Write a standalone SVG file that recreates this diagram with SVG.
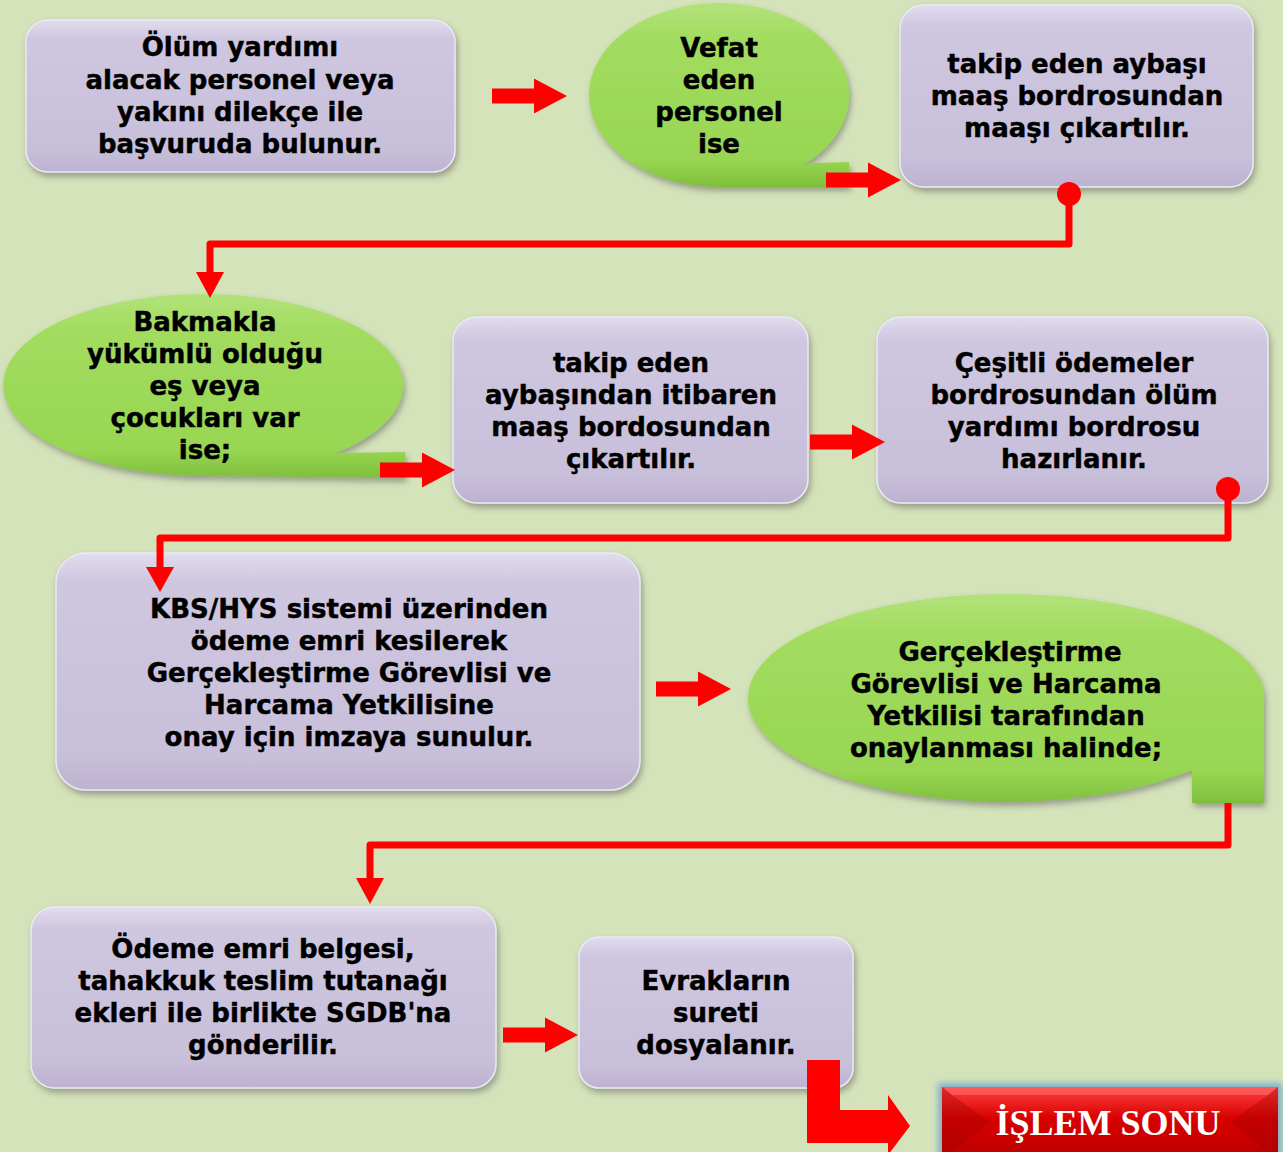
<svg xmlns="http://www.w3.org/2000/svg" xmlns:xlink="http://www.w3.org/1999/xlink" width="1283" height="1152" viewBox="0 0 1283 1152">
<defs>
<style>
.t{font-family:"DejaVu Sans","Verdana",sans-serif;font-weight:bold;font-size:26px;fill:#000;stroke:#000;stroke-width:0.45;text-anchor:middle}
.box{fill:url(#gP);stroke:#ece8f4;stroke-width:1.5;filter:url(#sh)}
.bub{fill:url(#gG);filter:url(#sh)}
.con{fill:none;stroke:#ff0000;stroke-width:7;stroke-linejoin:round}
.red{fill:#ff0000}
</style>
<linearGradient id="gP" x1="0" y1="0" x2="0" y2="1">
<stop offset="0" stop-color="#e2dcee"/>
<stop offset="0.12" stop-color="#cfc7e0"/>
<stop offset="0.85" stop-color="#c8bfda"/>
<stop offset="1" stop-color="#bdb2d0"/>
</linearGradient>
<linearGradient id="gG" x1="0" y1="0" x2="0" y2="1">
<stop offset="0" stop-color="#b2e27a"/>
<stop offset="0.2" stop-color="#a2dc5f"/>
<stop offset="0.85" stop-color="#98d652"/>
<stop offset="1" stop-color="#7fbf3c"/>
</linearGradient>
<linearGradient id="gR" x1="0" y1="0" x2="0" y2="1">
<stop offset="0" stop-color="#ff4040"/>
<stop offset="0.45" stop-color="#d80000"/>
<stop offset="1" stop-color="#bc0000"/>
</linearGradient>
<filter id="sh" x="-10%" y="-10%" width="125%" height="130%">
<feDropShadow dx="2" dy="4" stdDeviation="3" flood-color="#4a4a4a" flood-opacity="0.45"/>
</filter>
<filter id="glow" x="-10%" y="-30%" width="120%" height="160%">
<feGaussianBlur stdDeviation="3"/>
</filter>
<path id="arr" d="M0 -7.5 H42 V-17.5 L75 0 L42 17.5 V7.5 H0 Z"/>
</defs>
<rect width="1283" height="1152" fill="#d5e3bb"/>

<g id="n1">
<rect class="box" x="26" y="20" width="429" height="152" rx="22"/>
<text class="t" x="240" y="56">Ölüm yardımı</text>
<text class="t" x="240" y="89">alacak personel veya</text>
<text class="t" x="240" y="121">yakını dilekçe ile</text>
<text class="t" x="240" y="153">başvuruda bulunur.</text>
</g>

<g id="n2">
<path class="bub" d="M719 187 L849 187 L849 162 L815 163 Q795 165 782 175.5 A130 92 0 1 0 719 187 Z"/>
<text class="t" x="719" y="57">Vefat</text>
<text class="t" x="719" y="89">eden</text>
<text class="t" x="719" y="121">personel</text>
<text class="t" x="719" y="153">ise</text>
</g>

<g id="n3">
<rect class="box" x="900" y="5" width="353" height="182" rx="24"/>
<text class="t" x="1077" y="73">takip eden aybaşı</text>
<text class="t" x="1077" y="105">maaş bordrosundan</text>
<text class="t" x="1077" y="137">maaşı çıkartılır.</text>
</g>

<g id="n4">
<path class="bub" d="M205 476 L405 478 L405 452 L335 453 Q305 458 290 467 A200 91 0 1 0 205 476 Z"/>
<text class="t" x="205" y="331">Bakmakla</text>
<text class="t" x="205" y="363">yükümlü olduğu</text>
<text class="t" x="205" y="395">eş veya</text>
<text class="t" x="205" y="427">çocukları var</text>
<text class="t" x="205" y="459">ise;</text>
</g>

<g id="n5">
<rect class="box" x="453" y="317" width="355" height="186" rx="24"/>
<text class="t" x="631" y="372">takip eden</text>
<text class="t" x="631" y="404">aybaşından itibaren</text>
<text class="t" x="631" y="436">maaş bordosundan</text>
<text class="t" x="631" y="468">çıkartılır.</text>
</g>

<g id="n6">
<rect class="box" x="877" y="317" width="391" height="186" rx="24"/>
<text class="t" x="1074" y="372">Çeşitli ödemeler</text>
<text class="t" x="1074" y="404">bordrosundan ölüm</text>
<text class="t" x="1074" y="436">yardımı bordrosu</text>
<text class="t" x="1074" y="468">hazırlanır.</text>
</g>

<g id="n7">
<rect class="box" x="56" y="553" width="584" height="237" rx="30"/>
<text class="t" x="349" y="618">KBS/HYS sistemi üzerinden</text>
<text class="t" x="349" y="650">ödeme emri kesilerek</text>
<text class="t" x="349" y="682">Gerçekleştirme Görevlisi ve</text>
<text class="t" x="349" y="714">Harcama Yetkilisine</text>
<text class="t" x="349" y="746">onay için imzaya sunulur.</text>
</g>

<g id="n8">
<path class="bub" d="M1264 698 L1264 803 L1192 803 L1192 770 A258 104 0 1 1 1264 698 Z"/>
<text class="t" x="1010" y="661">Gerçekleştirme</text>
<text class="t" x="1006" y="693">Görevlisi ve Harcama</text>
<text class="t" x="1006" y="725">Yetkilisi tarafından</text>
<text class="t" x="1006" y="757">onaylanması halinde;</text>
</g>

<g id="n9">
<rect class="box" x="31" y="907" width="465" height="181" rx="24"/>
<text class="t" x="263" y="958">Ödeme emri belgesi,</text>
<text class="t" x="263" y="990">tahakkuk teslim tutanağı</text>
<text class="t" x="263" y="1022">ekleri ile birlikte SGDB'na</text>
<text class="t" x="263" y="1054">gönderilir.</text>
</g>

<g id="n10">
<rect class="box" x="579" y="937" width="274" height="151" rx="20"/>
<text class="t" x="716" y="990">Evrakların</text>
<text class="t" x="716" y="1022">sureti</text>
<text class="t" x="716" y="1054">dosyalanır.</text>
</g>

<g id="n11">
<rect x="938" y="1083" width="344" height="80" fill="#7fb0c8" filter="url(#glow)"/>
<rect x="942" y="1087" width="336" height="70" fill="url(#gR)"/>
<polygon points="942,1087 1278,1087 1268,1095 952,1095" fill="#ff6a6a" opacity="0.6"/>
<polygon points="942,1087 952,1095 990,1122 952,1152 942,1152" fill="#a00000" opacity="0.35"/>
<polygon points="1278,1087 1268,1095 1230,1122 1268,1152 1278,1152" fill="#a00000" opacity="0.35"/>
<text x="1108" y="1135" font-family="Liberation Serif, Times New Roman, serif" font-weight="bold" font-size="36" fill="#ffffff" text-anchor="middle">İŞLEM SONU</text>
</g>

<g id="connectors">
<use xlink:href="#arr" href="#arr" class="red" x="492" y="96"/>
<use xlink:href="#arr" href="#arr" class="red" x="826" y="180"/>
<use xlink:href="#arr" href="#arr" class="red" x="380" y="470"/>
<use xlink:href="#arr" href="#arr" class="red" x="810" y="442"/>
<use xlink:href="#arr" href="#arr" class="red" x="656" y="689"/>
<use xlink:href="#arr" href="#arr" class="red" x="503" y="1035"/>
<polyline class="con" points="1069,194 1069,244 210,244 210,276"/>
<circle class="red" cx="1069" cy="194" r="12"/>
<polygon class="red" points="196,272 224,272 210,298"/>
<polyline class="con" points="1228,489 1228,538 160,538 160,570"/>
<circle class="red" cx="1228" cy="489" r="12"/>
<polygon class="red" points="146,567 174,567 160,592"/>
<polyline class="con" points="1228,803 1228,845 370,845 370,882"/>
<polygon class="red" points="356,878 384,878 370,904"/>
<path class="red" d="M807 1060 H840 V1110 H888 V1095 L910 1126 L888 1155 V1143 H807 Z"/>
</g>
</svg>
